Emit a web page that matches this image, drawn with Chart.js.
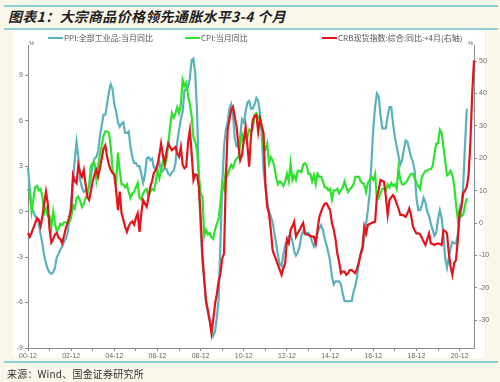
<!DOCTYPE html>
<html>
<head>
<meta charset="utf-8">
<script src="https://cdn.jsdelivr.net/npm/chart.js@4.4.1/dist/chart.umd.min.js"></script>
<style>
    html, body { margin: 0; padding: 0; }
    body { width: 500px; height: 382px; background: #fbf6ea; position: relative; overflow: hidden; font-family: "Noto Sans CJK SC", "Liberation Sans", sans-serif; }
    .rule { position: absolute; left: 4px; width: 494px; height: 2px; background: #8fcfd6; }
    #judul { position: absolute; left: 8px; top: 6px; font-size: 14px; font-weight: bold; font-style: italic; color: #1e1e1e; letter-spacing: 0.3px; }
    #panel { position: absolute; left: 13px; top: 31px; width: 471px; height: 327px; background: #ffffff; }
    #wrap { position: absolute; left: 0; top: 0; width: 500px; height: 382px; }
    .leg { position: absolute; top: 33px; font-size: 8px; color: #555; white-space: nowrap; line-height: 10px; }
    .leg i { display: inline-block; width: 15px; height: 2px; vertical-align: middle; margin-right: 1px; margin-top: -2px; }
    .pct { position: absolute; top: 40px; font-size: 6px; color: #666; font-family: "Liberation Sans", sans-serif; }
    #sumber { position: absolute; left: 7px; top: 366px; font-size: 10px; color: #333; letter-spacing: 0.2px; }
</style>
</head>
<body>
<div class="rule" style="top:5px"></div>
<div id="judul">图表1：大宗商品价格领先通胀水平3-4 个月</div>
<div class="rule" style="top:28px"></div>
<div id="panel"></div>
<div id="wrap"><canvas id="grafikInflasi" width="500" height="382"></canvas></div>
<div class="leg" style="left:48px"><i style="background:#5bb2bc"></i>PPI:全部工业品:当月同比</div>
<div class="leg" style="left:185px"><i style="background:#2fe22f"></i>CPI:当月同比</div>
<div class="leg" style="left:322px"><i style="background:#e3141b"></i>CRB现货指数:综合:同比:+4月(右轴)</div>
<div class="pct" style="left:29px">%</div>
<div class="pct" style="left:468px">%</div>
<div class="rule" style="top:361px"></div>
<div id="sumber">来源：Wind、国金证券研究所</div>

<script>
// sumbu x: bulan dari 2000-12 sampai 2021-08 (CRB digeser +4 bulan)
const startYear = 2000, startMonth = 12, monthCount = 249;
const monthLabels = [];
for (let i = 0; i < monthCount; i++) {
    const t = startYear * 12 + (startMonth - 1) + i;
    const y = Math.floor(t / 12), m = t % 12 + 1;
    monthLabels.push(String(y % 100).padStart(2, '0') + '-' + String(m).padStart(2, '0'));
}

const leftTicks = [-9, -6, -3, 0, 3, 6, 9];
const rightTicks = [-30, -20, -10, 0, 10, 20, 30, 40, 50];

// PPI 全部工业品 当月同比 (%), 2000-12 .. 2021-04
const ppiValues = [
    2.9, 1.5, 0.3, 0.0, -0.3, -0.4, -0.8, -1.5, -2.1, -2.9, -3.4, -3.8, -4.0,
    -4.1, -4.0, -3.7, -3.0, -2.8, -2.5, -2.3, -2.0, -1.8, -1.4, -0.5, 0.6,
    2.0, 3.4, 4.6, 3.6, 2.1, 1.6, 1.3, 1.4, 1.4, 1.6, 2.3, 3.1,
    3.5, 3.6, 4.0, 5.0, 5.7, 6.4, 6.4, 7.1, 7.9, 8.4, 8.1, 7.1,
    6.6, 5.9, 5.6, 5.8, 5.9, 5.2, 5.2, 5.3, 4.3, 3.6, 3.2, 3.2,
    3.0, 3.0, 2.5, 1.9, 2.4, 3.5, 3.6, 3.4, 3.5, 2.9, 2.8, 3.1,
    3.3, 2.6, 2.7, 2.9, 2.8, 2.5, 2.4, 2.6, 2.7, 3.2, 4.6, 5.4,
    6.1, 6.6, 8.0, 8.1, 8.2, 8.8, 10.0, 10.1, 9.1, 6.6, 2.0, -1.1,
    -3.3, -4.5, -6.0, -6.6, -7.2, -7.8, -8.2, -7.9, -7.0, -5.8, -2.1, 1.7,
    4.3, 5.4, 5.9, 6.8, 7.1, 6.4, 4.8, 4.3, 4.3, 5.0, 6.1, 5.9,
    6.6, 7.2, 7.3, 6.8, 6.8, 7.1, 7.5, 7.3, 6.5, 5.0, 2.7, 1.7,
    0.7, 0.0, -0.3, -0.7, -1.4, -2.1, -2.9, -3.5, -3.6, -2.8, -2.2, -1.9,
    -1.6, -1.6, -1.9, -2.6, -2.9, -2.7, -2.3, -1.6, -1.3, -1.5, -1.4, -1.4,
    -1.6, -2.0, -2.3, -2.0, -1.4, -1.1, -0.9, -1.2, -1.8, -2.2, -2.7, -3.3,
    -4.3, -4.8, -4.6, -4.6, -4.6, -4.8, -5.4, -5.9, -5.9, -5.9, -5.9, -5.9,
    -5.3, -4.9, -4.3, -3.4, -2.8, -2.6, -1.7, -0.8, 0.1, 1.2, 3.3, 5.5,
    6.9, 7.8, 7.6, 6.4, 5.5, 5.5, 5.5, 6.3, 6.9, 6.9, 5.8, 4.9,
    4.3, 3.7, 3.1, 3.4, 4.1, 4.7, 4.6, 4.1, 3.6, 3.3, 2.7, 0.9,
    0.1, 0.1, 0.4, 0.9, 0.6, 0.0, -0.3, -0.8, -1.2, -1.6, -1.4, -0.5,
    0.1, -0.4, -1.5, -3.1, -3.7, -3.0, -2.4, -2.0, -2.1, -2.1, -1.5, -0.4,
    0.3, 1.7, 4.4, 6.8
];

// CPI 当月同比 (%), 2000-12 .. 2021-04
const cpiValues = [
    1.5,
    1.2, 0.0, 0.8, 1.6, 1.7, 1.4, 1.5, 1.0, -0.1, 0.2, -0.3, -0.3,
    -1.0, 0.0, -0.8, -1.3, -1.1, -0.8, -0.9, -0.7, -0.7, -0.8, -0.7, -0.4,
    0.4, 0.2, 0.9, 1.0, 0.7, 0.3, 0.5, 0.9, 1.1, 1.8, 3.0, 3.2,
    3.2, 2.1, 3.0, 3.8, 4.4, 5.0, 5.3, 5.3, 5.2, 4.3, 2.8, 2.4,
    1.9, 3.9, 2.7, 1.8, 1.8, 1.6, 1.8, 1.3, 0.9, 1.2, 1.3, 1.6,
    1.9, 0.9, 0.8, 1.2, 1.4, 1.5, 1.0, 1.3, 1.5, 1.4, 1.9, 2.8,
    2.2, 2.7, 3.3, 3.0, 3.4, 4.4, 5.6, 6.5, 6.2, 6.5, 6.9, 6.5,
    7.1, 8.7, 8.3, 8.5, 7.7, 7.1, 6.3, 4.9, 4.6, 4.0, 2.4, 1.2,
    1.0, -1.6, -1.2, -1.5, -1.4, -1.7, -1.8, -1.2, -0.8, -0.5, 0.6, 1.9,
    1.5, 2.7, 2.4, 2.8, 3.1, 2.9, 3.3, 3.5, 3.6, 4.4, 5.1, 4.6,
    4.9, 4.9, 5.4, 5.3, 5.5, 6.4, 6.5, 6.2, 6.1, 5.5, 4.2, 4.1,
    4.5, 3.2, 3.6, 3.4, 3.0, 2.2, 1.8, 2.0, 1.9, 1.7, 2.0, 2.5,
    2.0, 3.2, 2.1, 2.4, 2.1, 2.7, 2.7, 2.6, 3.1, 3.2, 3.0, 2.5,
    2.5, 2.0, 2.4, 1.8, 2.5, 2.3, 2.3, 2.0, 1.6, 1.6, 1.4, 1.5,
    0.8, 1.4, 1.4, 1.5, 1.2, 1.4, 1.6, 2.0, 1.6, 1.3, 1.5, 1.6,
    1.8, 2.3, 2.3, 2.3, 2.0, 1.9, 1.8, 1.3, 1.9, 2.1, 2.3, 2.1,
    2.5, 0.8, 0.9, 1.2, 1.5, 1.5, 1.4, 1.8, 1.6, 1.9, 1.7, 1.8,
    1.5, 2.9, 2.1, 1.8, 1.8, 1.9, 2.1, 2.3, 2.5, 2.5, 2.2, 1.9,
    1.7, 1.5, 2.3, 2.5, 2.7, 2.7, 2.8, 2.8, 3.0, 3.8, 4.5, 4.5,
    5.4, 5.2, 4.3, 3.3, 2.4, 2.5, 2.7, 2.4, 1.7, 0.5, -0.5, 0.2,
    -0.3, -0.2, 0.4, 0.9
];

// CRB 现货指数 综合 同比 (%), sudah digeser +4 bulan: posisi 2000-12 .. 2021-08
const crbValues = [
    -3.1, -4.2, -3.0, -1.5, 0.0, 1.5, 1.0, -1.0, 2.0, 6.0, 9.7, 6.0,
    -2.0, -6.0, -5.0, -3.5, -3.1, -4.5, -5.0, -6.2, -4.0, -1.6, 0.0, 2.0,
    4.0, 14.8, 13.0, 12.3, 17.9, 15.5, 14.3, 16.4, 12.0, 8.0, 7.1, 10.0,
    13.0, 15.0, 16.4, 14.3, 17.0, 20.0, 23.0, 24.0, 20.5, 18.0, 16.4, 15.5,
    14.8, 10.0, 4.0, 9.7, 3.1, 1.0, -1.1, -2.7, -1.0, 0.0, 0.5, -0.5,
    1.5, 3.0, -2.7, 3.0, 7.1, 6.0, 5.0, 8.0, 11.2, 13.0, 15.5, 16.4,
    17.9, 21.0, 24.6, 21.0, 18.4, 22.0, 24.6, 23.5, 22.5, 23.0, 23.5, 21.5,
    20.5, 23.5, 18.0, 16.9, 17.4, 25.0, 28.7, 21.5, 13.3, 15.0, 14.8, 11.2,
    2.0, -10.0, -17.6, -24.0, -26.9, -30.0, -34.0, -29.9, -25.0, -22.0, -18.0, -15.5,
    -11.0, -9.4, 13.3, 28.7, 32.0, 35.0, 35.9, 32.8, 29.7, 24.0, 19.4, 21.0,
    25.6, 29.7, 24.0, 17.4, 27.0, 31.8, 33.0, 33.3, 28.2, 32.3, 30.0, 27.7,
    12.0, 5.0, 3.0, -2.0, -8.3, -10.0, -11.4, -13.0, -14.5, -16.0, -14.0, -12.4,
    -5.2, -6.3, -2.2, -1.0, 0.4, -4.2, -3.0, -2.2, -1.0, 0.0, -3.2, -3.5,
    -3.7, -4.0, -4.2, -4.2, -6.3, -2.0, 1.9, 3.5, 5.0, 6.0, 6.1, 5.0,
    4.0, 0.0, -2.0, -5.0, -9.4, -12.0, -15.5, -15.0, -15.0, -16.0, -15.5, -14.5,
    -14.5, -15.0, -15.5, -14.0, -12.0, -9.4, -7.3, -1.1, -3.2, -0.6, -0.3, 0.0,
    0.2, 0.4, 8.0, 10.2, 13.3, 13.0, 12.7, 8.1, 2.5, 7.1, 8.0, 8.6,
    7.6, 6.0, 4.5, 2.5, 2.5, 2.3, 1.9, 3.0, 4.5, 2.5, -1.0, -2.2,
    -3.2, -3.2, -3.5, -4.5, -5.8, -6.8, -5.0, -3.2, -6.3, -6.5, -6.8, -6.5,
    -6.3, -6.5, -6.8, -2.2, -2.5, -3.2, -9.4, -13.5, -16.0, -12.4, -11.4, -5.2,
    3.0, 5.0, 9.2, 10.0, 11.2, 15.0, 25.0, 40.0, 50.3
];

document.addEventListener('DOMContentLoaded', function () {
    initInflasiChart();
});

function initInflasiChart() {
    const canvas = document.getElementById('grafikInflasi');
    if (!canvas) return;

    const axisColor = '#8a8a8a';
    const tickFont = { family: 'Liberation Sans', size: 7 };

    new Chart(canvas.getContext('2d'), {
        type: 'line',
        data: {
            labels: monthLabels,
            datasets: [
                { label: 'CRB现货指数:综合:同比:+4月(右轴)', data: crbValues, yAxisID: 'y1', borderColor: '#e3141b', borderWidth: 2.2, order: 1 },
                { label: 'CPI:当月同比', data: cpiValues, yAxisID: 'y', borderColor: '#2fe22f', borderWidth: 2.2, order: 2 },
                { label: 'PPI:全部工业品:当月同比', data: ppiValues, yAxisID: 'y', borderColor: '#5bb2bc', borderWidth: 2.2, order: 3 }
            ]
        },
        options: {
            responsive: false,
            animation: false,
            elements: { point: { radius: 0 }, line: { tension: 0 } },
            layout: { padding: { top: 45, left: 0, right: 0, bottom: 0 } },
            plugins: { legend: { display: false }, tooltip: { enabled: false } },
            scales: {
                x: {
                    type: 'category',
                    offset: false,
                    border: { display: true, color: axisColor },
                    grid: { drawOnChartArea: false, drawTicks: true, tickLength: 3, color: axisColor },
                    afterBuildTicks: function (scale) {
                        // hanya bulan Desember yang diberi tick
                        scale.ticks = scale.ticks.filter(t => monthLabels[t.value].endsWith('-12'));
                    },
                    afterFit: function (scale) { scale.height = 34; },
                    ticks: {
                        autoSkip: false, maxRotation: 0, padding: 1, color: '#666', font: tickFont,
                        callback: function (value) {
                            const lbl = monthLabels[value];
                            return parseInt(lbl, 10) % 2 === 0 ? lbl : '';
                        }
                    }
                },
                y: {
                    position: 'left',
                    min: -9, max: 11,
                    border: { display: true, color: axisColor },
                    grid: { drawOnChartArea: false, drawTicks: true, tickLength: 3, color: axisColor },
                    afterBuildTicks: function (scale) { scale.ticks = leftTicks.map(v => ({ value: v })); },
                    afterFit: function (scale) { scale.width = 28; },
                    ticks: { padding: 2, color: '#666', font: tickFont }
                },
                y1: {
                    position: 'right',
                    min: -38.6, max: 55,
                    border: { display: true, color: axisColor },
                    grid: { drawOnChartArea: false, drawTicks: true, tickLength: 3, color: axisColor },
                    afterBuildTicks: function (scale) { scale.ticks = rightTicks.map(v => ({ value: v })); },
                    afterFit: function (scale) { scale.width = 26; },
                    ticks: { padding: 2, color: '#666', font: tickFont }
                }
            }
        }
    });
}
</script>
</body>
</html>
